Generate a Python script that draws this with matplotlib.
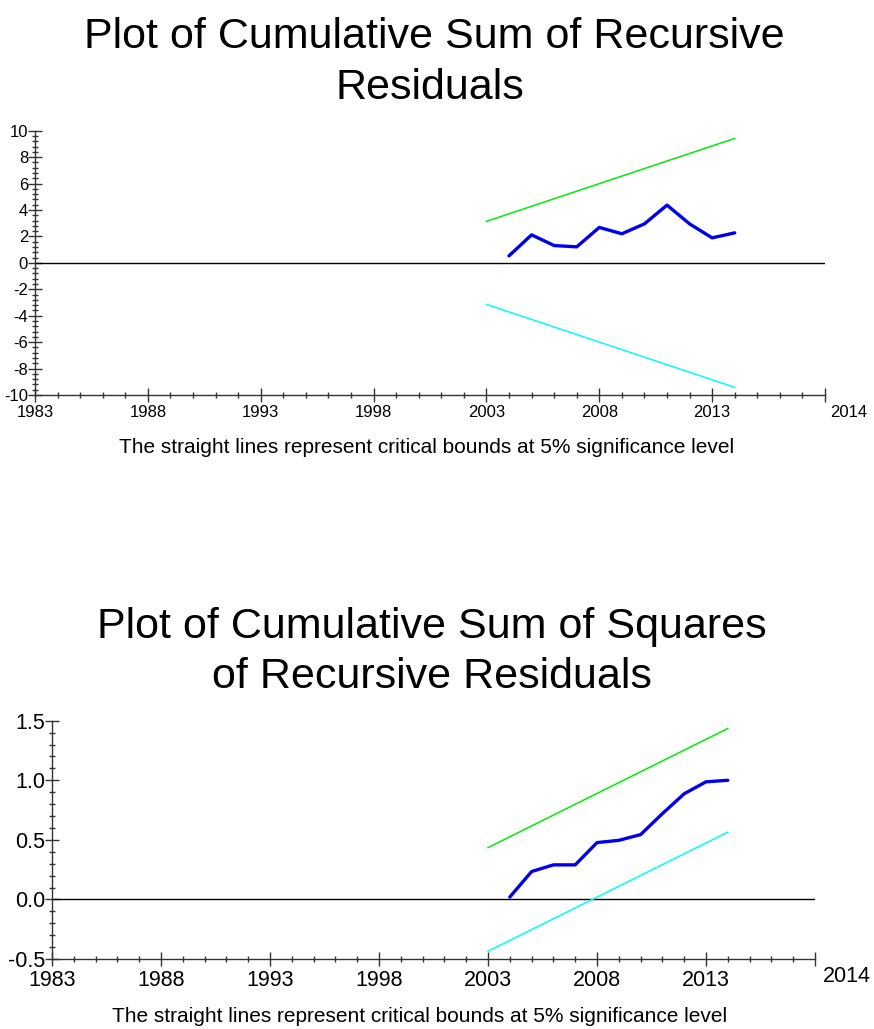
import matplotlib
matplotlib.use("Agg")
import matplotlib.pyplot as plt
from matplotlib import font_manager
from matplotlib.ticker import MultipleLocator

# CUSUM / CUSUMSQ results
years = [2004, 2005, 2006, 2007, 2008, 2009, 2010, 2011, 2012, 2013, 2014]
cusum = [0.53, 2.12, 1.31, 1.21, 2.68, 2.20, 2.95, 4.37, 2.95, 1.89, 2.27]
cusumsq = [0.02, 0.234, 0.29, 0.29, 0.477, 0.496, 0.544, 0.72, 0.887, 0.987, 1.0]

bound_years = [2003, 2014]
cusum_upper = [3.14, 9.42]
cusum_lower = [-3.14, -9.42]
sq_upper = [0.435, 1.435]
sq_lower = [-0.435, 0.565]

x_range = [1983, 2018]
x_major = [1983, 1988, 1993, 1998, 2003, 2008, 2013, 2018]
x_labels = ['1983', '1988', '1993', '1998', '2003', '2008', '2013', '']
end_label = '2014'

cusum_ticks = [-10, -8, -6, -4, -2, 0, 2, 4, 6, 8, 10]
sq_ticks = [-0.5, 0.0, 0.5, 1.0, 1.5]

caption = 'The straight lines represent critical bounds at 5% significance level'

names = {f.name for f in font_manager.fontManager.ttflist}
narrow = 'Liberation Sans Narrow' if 'Liberation Sans Narrow' in names else 'Liberation Sans'
plt.rcParams['font.family'] = ['Liberation Sans', 'DejaVu Sans']

W, H = 874, 1029
fig = plt.figure(figsize=(W / 100, H / 100), dpi=100)


def px_axes(l, t, r, b):
    return fig.add_axes([l / W, 1 - b / H, (r - l) / W, (b - t) / H])


def style_axes(ax, tick_font, tick_size):
    for s in ['top', 'right']:
        ax.spines[s].set_visible(False)
    for s in ['left', 'bottom']:
        ax.spines[s].set_color('#333333')
        ax.spines[s].set_linewidth(1.0)
    ax.tick_params(which='major', direction='inout', length=10, width=1.0, color='#333333')
    ax.tick_params(which='minor', direction='inout', length=5, width=1.0, color='#333333')
    ax.set_xlim(x_range)
    ax.set_xticks(x_major)
    ax.set_xticklabels(x_labels, fontfamily=tick_font, fontsize=tick_size)
    ax.xaxis.set_minor_locator(MultipleLocator(1))


def fig_text(x, y, s, size, family='Liberation Sans'):
    fig.text(x / W, 1 - y / H, s, ha='center', va='baseline', fontsize=size,
             fontfamily=family)


# ---------------- top: CUSUM ----------------
ax1 = px_axes(35, 130.7, 825, 395)
ax1.plot(x_range, [0, 0], color='black', lw=1.0)
ax1.plot(bound_years, cusum_upper, color='#00ee00', lw=1.1)
ax1.plot(bound_years, cusum_lower, color='#00ffff', lw=1.1)
ax1.plot(years, cusum, color='#0000ee', lw=2.4, solid_capstyle='round')
ax1.set_ylim(-10, 10)
style_axes(ax1, narrow, 12)
ax1.set_yticks(cusum_ticks)
ax1.set_yticklabels([str(v) for v in cusum_ticks], fontfamily=narrow, fontsize=12)
ax1.yaxis.set_minor_locator(MultipleLocator(0.4))
ax1.tick_params(axis='x', pad=2)
ax1.tick_params(axis='y', pad=0)
ax1.annotate(end_label, xy=(2018, -10), xycoords='data', xytext=(24, -17),
             textcoords='offset pixels', ha='center', va='center',
             fontfamily=narrow, fontsize=12)

fig_text(434, 48, 'Plot of Cumulative Sum of Recursive', 31)
fig_text(430, 99, 'Residuals', 31)
fig_text(427, 453, caption, 15)

# ---------------- bottom: CUSUMSQ ----------------
ax2 = px_axes(52, 720.7, 815, 959)
ax2.plot(x_range, [0, 0], color='black', lw=1.0)
ax2.plot(bound_years, sq_upper, color='#00ee00', lw=1.1)
ax2.plot(bound_years, sq_lower, color='#00ffff', lw=1.1)
ax2.plot(years, cusumsq, color='#0000ee', lw=2.4, solid_capstyle='round')
ax2.set_ylim(-0.5, 1.5)
style_axes(ax2, 'Liberation Sans', 15.5)
ax2.set_yticks(sq_ticks)
ax2.set_yticklabels(['%.1f' % v for v in sq_ticks], fontsize=15.5)
ax2.yaxis.set_minor_locator(MultipleLocator(0.1))
ax2.tick_params(axis='x', pad=3)
ax2.tick_params(axis='y', pad=0)
ax2.annotate(end_label, xy=(2018, -0.5), xycoords='data', xytext=(32, -18),
             textcoords='offset pixels', ha='center', va='center', fontsize=15.5)

fig_text(432, 638, 'Plot of Cumulative Sum of Squares', 31)
fig_text(432, 688, 'of Recursive Residuals', 31)
fig_text(420, 1022, caption, 15)

fig.savefig('out.png', dpi=100)
